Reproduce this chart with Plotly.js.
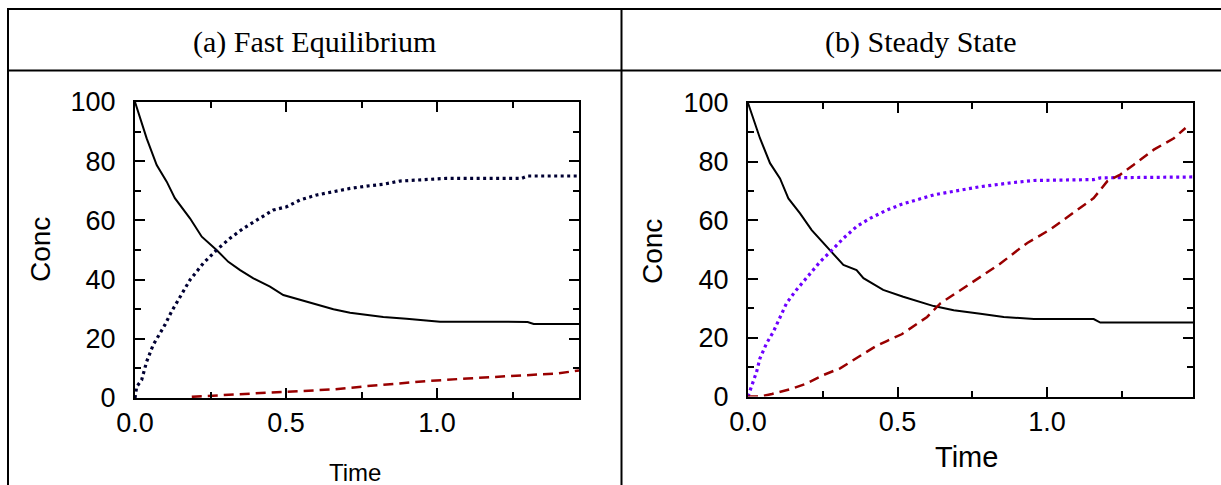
<!DOCTYPE html>
<html>
<head>
<meta charset="utf-8">
<script src="https://cdn.plot.ly/plotly-3.0.1.min.js"></script>
<style>
html, body { margin: 0; padding: 0; background: #ffffff; }
#chart { width: 1221px; height: 485px; }
</style>
</head>
<body>
<div id="chart"></div>
<script>
// ---- Panel (a) Fast Equilibrium ----
var tA_a = [0, 0.0386, 0.0718, 0.105, 0.132, 0.182, 0.221, 0.27, 0.309, 0.348, 0.392, 0.447, 0.491, 0.546, 0.602, 0.657, 0.712, 0.767, 0.822, 0.899, 1.01, 1.30, 1.32, 1.47];
var A_a  = [100, 87.7, 78.7, 73.1, 67.5, 60.7, 54.5, 50, 46, 43.2, 40.4, 37.6, 34.8, 33.2, 31.4, 30, 28.8, 28, 27.4, 26.8, 25.8, 25.7, 25, 25];

var tB_a = [0, 0.0055, 0.022, 0.0386, 0.06, 0.083, 0.099, 0.121, 0.155, 0.182, 0.226, 0.27, 0.315, 0.359, 0.403, 0.458, 0.502, 0.546, 0.602, 0.657, 0.712, 0.767, 0.822, 0.877, 0.95, 1.03, 1.28, 1.30, 1.47];
var B_a  = [0, 3.8, 6.1, 12.3, 17.9, 21.8, 24.7, 29.2, 35.4, 39.9, 45.5, 50, 54, 57.3, 60.1, 63.5, 64.6, 66.9, 68.6, 69.7, 70.8, 71.6, 72.2, 73.3, 73.8, 74.2, 74.2, 75, 75];

var tC_a = [0.188, 0.26, 0.33, 0.5, 0.657, 0.767, 0.822, 0.966, 1.10, 1.26, 1.40, 1.47];
var C_a  = [0.4, 0.7, 1.2, 2.1, 2.9, 4, 4.5, 5.7, 6.6, 7.5, 8.3, 9.3];

// ---- Panel (b) Steady State ----
var tA_b = [0, 0.040, 0.0736, 0.107, 0.135, 0.174, 0.213, 0.28, 0.319, 0.363, 0.386, 0.452, 0.519, 0.621, 0.688, 0.777, 0.855, 0.956, 1.156, 1.178, 1.488];
var A_b  = [100, 88, 79.5, 74.3, 67.5, 62.4, 56.7, 49.3, 44.8, 43.1, 40.3, 36.3, 34, 30.8, 29.4, 28.2, 27.1, 26.4, 26.4, 25.2, 25.2];

var tB_b = [0, 0.018, 0.029, 0.040, 0.062, 0.085, 0.107, 0.129, 0.157, 0.196, 0.241, 0.28, 0.319, 0.363, 0.408, 0.464, 0.514, 0.621, 0.688, 0.777, 0.888, 0.956, 1.156, 1.178, 1.488];
var B_b  = [0, 5, 8.5, 13, 18.1, 22.1, 27.2, 31.8, 35.7, 40.3, 45.9, 49.8, 53.9, 57.9, 60.7, 63.5, 65.5, 68.7, 69.8, 71.5, 72.9, 73.6, 73.9, 74.5, 74.8];

var tC_b = [0, 0.04, 0.08, 0.145, 0.19, 0.252, 0.308, 0.363, 0.425, 0.464, 0.514, 0.599, 0.643, 0.71, 0.777, 0.844, 0.91, 0.934, 1.012, 1.1, 1.156, 1.201, 1.245, 1.29, 1.357, 1.424, 1.463];
var C_b  = [0, 0, 0.85, 2.6, 4.2, 7.3, 9.6, 13, 17, 18.9, 21.2, 27.1, 31.7, 36.2, 40.8, 45.3, 50.5, 52.3, 57, 63.6, 67.6, 73.3, 75.6, 79, 84.1, 88, 91.5];

// ---- Text ----
var panelTitles = ['(a) Fast Equilibrium', '(b) Steady State'];
var yTitle = 'Conc';
var xTitle = 'Time';

var W = 1221, H = 485;
function px(x) { return x / W; }
function py(y) { return 1 - y / H; }

var sans = 'Liberation Sans, Arial, Helvetica, sans-serif';
var serif = 'Liberation Serif, Times New Roman, serif';
var colA = '#000000', colC = '#990000';
var colB_a = '#000033', colB_b = '#6E00FF';

function line(c, w, d) { return {color: c, width: w, dash: d}; }

var traces = [
  {x: tA_a, y: A_a, xaxis: 'x', yaxis: 'y', mode: 'lines', line: line(colA, 2, 'solid')},
  {x: tB_a, y: B_a, xaxis: 'x', yaxis: 'y', mode: 'lines', line: line(colB_a, 3.2, '3px,3.5px')},
  {x: tC_a, y: C_a, xaxis: 'x', yaxis: 'y', mode: 'lines', line: line(colC, 2.5, '10px,6px')},
  {x: tA_b, y: A_b, xaxis: 'x2', yaxis: 'y2', mode: 'lines', line: line(colA, 2, 'solid')},
  {x: tB_b, y: B_b, xaxis: 'x2', yaxis: 'y2', mode: 'lines', line: line(colB_b, 3.2, '3px,3.5px')},
  {x: tC_b, y: C_b, xaxis: 'x2', yaxis: 'y2', mode: 'lines', line: line(colC, 2.5, '10px,6px')}
];

function xax(domain, rng) {
  return {
    domain: domain, range: rng, tick0: 0, dtick: 0.5, tickformat: '.1f',
    ticks: 'inside', ticklen: 10, tickwidth: 2, tickcolor: '#000',
    showline: true, linewidth: 2, linecolor: '#000', mirror: 'ticks',
    showgrid: false, zeroline: false, fixedrange: true,
    minor: {dtick: 0.25, tick0: 0, ticks: 'inside', ticklen: 6, tickwidth: 2, tickcolor: '#000', showgrid: false},
    tickfont: {family: sans, size: 27, color: '#000'}
  };
}
function yax(domain, anchor) {
  return {
    domain: domain, range: [0, 100], tick0: 0, dtick: 20, anchor: anchor,
    ticks: 'inside', ticklen: 10, tickwidth: 2, tickcolor: '#000',
    showline: true, linewidth: 2, linecolor: '#000', mirror: 'ticks',
    showgrid: false, zeroline: false, fixedrange: true,
    minor: {dtick: 10, tick0: 0, ticks: 'inside', ticklen: 6, tickwidth: 2, tickcolor: '#000', showgrid: false},
    tickfont: {family: sans, size: 27, color: '#000'},
    ticklabelstandoff: 12
  };
}

var layout = {
  width: W, height: H,
  margin: {l: 0, r: 0, t: 0, b: 0},
  paper_bgcolor: '#ffffff', plot_bgcolor: '#ffffff',
  showlegend: false,
  xaxis: Object.assign(xax([px(135), px(579)], [0, 1.47]), {anchor: 'y'}),
  yaxis: yax([py(398), py(102)], 'x'),
  xaxis2: Object.assign(xax([px(748), px(1193)], [0, 1.488]), {anchor: 'y2'}),
  yaxis2: yax([py(396.5), py(103)], 'x2'),
  shapes: [
    {type: 'line', xref: 'paper', yref: 'paper', x0: px(7), x1: 1, y0: py(9), y1: py(9), line: {color: '#000', width: 2}},
    {type: 'line', xref: 'paper', yref: 'paper', x0: px(7), x1: 1, y0: py(70.5), y1: py(70.5), line: {color: '#000', width: 2}},
    {type: 'line', xref: 'paper', yref: 'paper', x0: px(8), x1: px(8), y0: 0, y1: py(8), line: {color: '#000', width: 2}},
    {type: 'line', xref: 'paper', yref: 'paper', x0: px(621.5), x1: px(621.5), y0: 0, y1: py(8), line: {color: '#000', width: 2}}
  ],
  annotations: [
    {text: panelTitles[0], xref: 'paper', yref: 'paper', x: px(314), y: py(42), xanchor: 'center', yanchor: 'middle', showarrow: false, font: {family: serif, size: 30, color: '#000'}},
    {text: panelTitles[1], xref: 'paper', yref: 'paper', x: px(921), y: py(42), xanchor: 'center', yanchor: 'middle', showarrow: false, font: {family: serif, size: 30, color: '#000'}},
    {text: yTitle, xref: 'paper', yref: 'paper', x: px(41), y: py(250), xanchor: 'center', yanchor: 'middle', textangle: -90, showarrow: false, font: {family: sans, size: 28, color: '#000'}},
    {text: yTitle, xref: 'paper', yref: 'paper', x: px(652), y: py(252), xanchor: 'center', yanchor: 'middle', textangle: -90, showarrow: false, font: {family: sans, size: 28, color: '#000'}},
    {text: xTitle, xref: 'paper', yref: 'paper', x: px(355), y: py(472), xanchor: 'center', yanchor: 'middle', showarrow: false, font: {family: sans, size: 24, color: '#000'}},
    {text: xTitle, xref: 'paper', yref: 'paper', x: px(967), y: py(457), xanchor: 'center', yanchor: 'middle', showarrow: false, font: {family: sans, size: 29, color: '#000'}}
  ]
};

Plotly.newPlot('chart', traces, layout, {staticPlot: true, displayModeBar: false});
</script>
</body>
</html>
